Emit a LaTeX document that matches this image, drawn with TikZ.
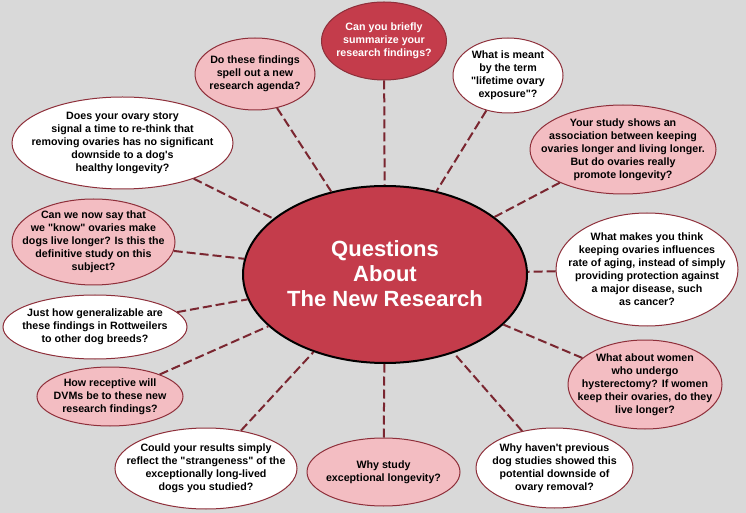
\documentclass[tikz,border=0pt]{standalone}
\usepackage{fontspec}
\setmainfont{Liberation Sans}
\usetikzlibrary{shapes.geometric}
\definecolor{bg}{HTML}{D9D9D9}
\definecolor{darkred}{HTML}{C43C4B}
\definecolor{pinkfill}{HTML}{F3BDC2}
\definecolor{linkred}{HTML}{7A2630}
\definecolor{rimred}{HTML}{8E2F3A}
\newcommand{\dq}{\textquotedbl}
\newcommand{\ap}{\textquotesingle}
\tikzset{
  bub/.style n args={3}{ellipse, draw=rimred, line width=0.75pt, fill=#1,
     minimum width=#2*0.75pt, minimum height=#3*0.75pt, inner sep=0pt},
  txt/.style={align=center, font=\fontsize{8}{9.75}\selectfont\bfseries, text=black, inner sep=0pt},
  wtxt/.style={txt, text=white},
  link/.style={draw=linkred, line width=1.5pt, dash pattern=on 6.75pt off 3pt},
  core/.style={ellipse, draw=black, line width=1.5pt, fill=darkred,
     minimum width=284*0.75pt, minimum height=177*0.75pt, inner sep=0pt},
  coretxt/.style={align=center, font=\fontsize{16.5}{18.75}\selectfont\bfseries, text=white, inner sep=0pt}
}
\begin{document}
\begin{tikzpicture}[x=0.75pt,y=-0.75pt]
\useasboundingbox[fill=bg] (0,0) rectangle (746,513);

% central node
\node[core] (c) at (385,274.5) {};

% satellites
\node[bub={darkred}{125}{78}] (s1) at (384,41) {};
\node[bub={pinkfill}{120}{72}] (s2) at (255,74) {};
\node[bub={white}{110}{75}] (s3) at (508,75.5) {};
\node[bub={pinkfill}{186}{89}] (s4) at (623,149.5) {};
\node[bub={white}{221}{92}] (s5) at (122.5,143) {};
\node[bub={pinkfill}{163}{86}] (s6) at (93.5,242) {};
\node[bub={white}{182}{113}] (s7) at (647,269.5) {};
\node[bub={white}{184}{64}] (s8) at (95,327) {};
\node[bub={pinkfill}{146}{59}] (s9) at (110,396.5) {};
\node[bub={white}{182}{81}] (s10) at (206,468.5) {};
\node[bub={pinkfill}{153}{68}] (s11) at (383.5,472) {};
\node[bub={white}{157}{80}] (s12) at (554.5,468) {};
\node[bub={pinkfill}{154}{89}] (s13) at (645,384.5) {};

% connectors
\foreach \s in {s1,s2,s3,s4,s5,s6,s7,s8,s9,s10,s11,s12,s13}
  \draw[link] (\s) -- (c);

\node[coretxt] (ct) at (385,274) {Questions\\About\\The New Research};

% texts
\node[wtxt] (t1) at (s1) {Can you briefly\\summarize your\\research findings?};
\node[txt] (t2) at (s2) {Do these findings\\spell out a new\\research agenda?};
\node[txt] (t3) at (s3) {What is meant\\by the term\\\dq lifetime ovary\\exposure\dq?};
\node[txt] (t4) at (s4) {Your study shows an\\association between keeping\\ovaries longer and living longer.\\But do ovaries really\\promote longevity?};
\node[txt] (t5) at (s5) {Does your ovary story\\signal a time to re-think that\\removing ovaries has no significant\\downside to a dog\ap s\\healthy longevity?};
\node[txt] (t6) at (s6) {Can we now say that\\we \dq know\dq{} ovaries make\\dogs live longer? Is this the\\definitive study on this\\subject?};
\node[txt] (t7) at (s7) {What makes you think\\keeping ovaries influences\\rate of aging, instead of simply\\providing protection against\\a major disease, such\\as cancer?};
\node[txt] (t8) at (s8) {Just how generalizable are\\these findings in Rottweilers\\to other dog breeds?};
\node[txt] (t9) at (s9) {How receptive will\\DVMs be to these new\\research findings?};
\node[txt] (t10) at (s10) {Could your results simply\\reflect the \dq strangeness\dq{} of the\\exceptionally long-lived\\dogs you studied?};
\node[txt] (t11) at (s11) {Why study\\exceptional longevity?};
\node[txt] (t12) at (s12) {Why haven\ap t previous\\dog studies showed this\\potential downside of\\ovary removal?};
\node[txt] (t13) at (s13) {What about women\\who undergo\\hysterectomy? If women\\keep their ovaries, do they\\live longer?};
\end{tikzpicture}
\end{document}
